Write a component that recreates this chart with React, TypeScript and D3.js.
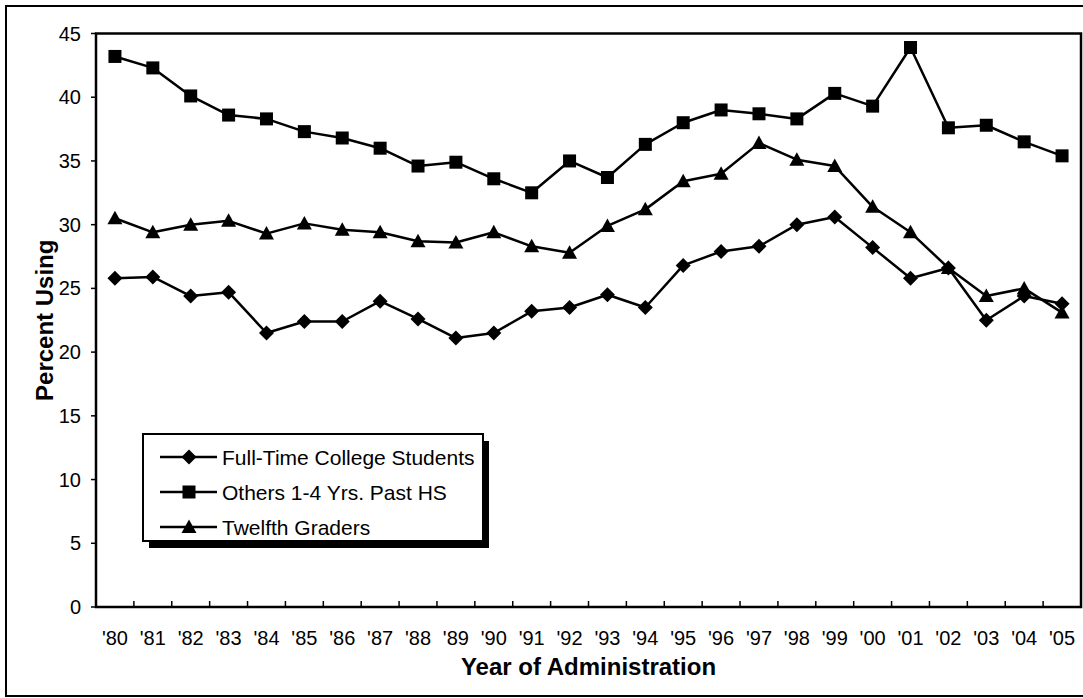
import React from 'react';
import * as d3 from 'd3';

const years = ["'80", "'81", "'82", "'83", "'84", "'85", "'86", "'87", "'88", "'89", "'90", "'91", "'92", "'93", "'94", "'95", "'96", "'97", "'98", "'99", "'00", "'01", "'02", "'03", "'04", "'05"];
const fullTime = [25.8, 25.9, 24.4, 24.7, 21.5, 22.4, 22.4, 24.0, 22.6, 21.1, 21.5, 23.2, 23.5, 24.5, 23.5, 26.8, 27.9, 28.3, 30.0, 30.6, 28.2, 25.8, 26.6, 22.5, 24.4, 23.8];
const others = [43.2, 42.3, 40.1, 38.6, 38.3, 37.3, 36.8, 36.0, 34.6, 34.9, 33.6, 32.5, 35.0, 33.7, 36.3, 38.0, 39.0, 38.7, 38.3, 40.3, 39.3, 43.9, 37.6, 37.8, 36.5, 35.4];
const twelfth = [30.5, 29.4, 30.0, 30.3, 29.3, 30.1, 29.6, 29.4, 28.7, 28.6, 29.4, 28.3, 27.8, 29.9, 31.2, 33.4, 34.0, 36.4, 35.1, 34.6, 31.4, 29.4, 26.6, 24.4, 25.0, 23.1];
const yTicks = [0, 5, 10, 15, 20, 25, 30, 35, 40, 45];
const seriesNames = ['Full-Time College Students', 'Others 1-4 Yrs. Past HS', 'Twelfth Graders'];

const FONT = "'Liberation Sans', Arial, sans-serif";

type Shape = 'diamond' | 'square' | 'triangle';

function Marker({ shape, x, y }: { shape: Shape; x: number; y: number }) {
  if (shape === 'square') {
    return <rect x={x - 6.5} y={y - 6.5} width={13} height={13} fill="#000" />;
  }
  if (shape === 'diamond') {
    return <path d={`M${x},${y - 7.5}L${x + 7.5},${y}L${x},${y + 7.5}L${x - 7.5},${y}Z`} fill="#000" />;
  }
  return <path d={`M${x},${y - 7.5}L${x + 7.5},${y + 6}L${x - 7.5},${y + 6}Z`} fill="#000" />;
}

export default function App() {
  const W = 1083;
  const H = 698;
  const plot = { left: 96, top: 33.5, right: 1081, bottom: 607 };
  const x = d3.scaleBand<string>().domain(years).range([plot.left, plot.right]).padding(0);
  const y = d3.scaleLinear().domain([0, 45]).range([plot.bottom, plot.top]);
  const cx = (i: number) => (x(years[i]) as number) + x.bandwidth() / 2;
  const line = d3.line<number>().x((_, i) => cx(i)).y((d) => y(d));

  const series: { name: string; values: number[]; shape: Shape }[] = [
    { name: seriesNames[0], values: fullTime, shape: 'diamond' },
    { name: seriesNames[1], values: others, shape: 'square' },
    { name: seriesNames[2], values: twelfth, shape: 'triangle' },
  ];

  const boundaries = years.slice(1).map((yr) => x(yr) as number);

  const legend = { x: 143, y: 434, w: 340, h: 107 };
  const legendRows = [457, 492, 527];

  return (
    <svg
      width={W}
      height={H}
      style={{ position: 'absolute', left: 0, top: 0, background: '#fff' }}
      fontFamily={FONT}
    >
      <rect x={0} y={0} width={W} height={H} fill="#fff" />
      {/* outer frame */}
      <rect x={6} y={6} width={1090} height={690} fill="none" stroke="#000" strokeWidth={2} />

      {/* plot box */}
      <rect
        x={plot.left}
        y={plot.top}
        width={plot.right - plot.left}
        height={plot.bottom - plot.top}
        fill="#fff"
        stroke="#000"
        strokeWidth={2.5}
      />

      {/* y ticks and labels */}
      {yTicks.map((t) => (
        <g key={t}>
          <line x1={plot.left - 5} x2={plot.left} y1={y(t)} y2={y(t)} stroke="#000" strokeWidth={1.5} />
          <text x={81} y={y(t)} dy="0.35em" textAnchor="end" fontSize={20} fill="#000">
            {t}
          </text>
        </g>
      ))}

      {/* x ticks (inside) */}
      {boundaries.map((bx, i) => (
        <line key={i} x1={bx} x2={bx} y1={plot.bottom} y2={plot.bottom - 6} stroke="#000" strokeWidth={1.5} />
      ))}
      {years.map((yr, i) => (
        <text key={yr} x={cx(i)} y={645} textAnchor="middle" fontSize={20} fill="#000">
          {yr}
        </text>
      ))}

      {/* axis titles */}
      <text x={588.5} y={675} textAnchor="middle" fontSize={24} fontWeight="bold" fill="#000">
        Year of Administration
      </text>
      <text
        transform={`translate(53,${(plot.top + plot.bottom) / 2}) rotate(-90)`}
        textAnchor="middle"
        fontSize={24}
        fontWeight="bold"
        fill="#000"
      >
        Percent Using
      </text>

      {/* series */}
      {series.map((s) => (
        <g key={s.name}>
          <path d={line(s.values) as string} fill="none" stroke="#000" strokeWidth={2.5} strokeLinejoin="round" />
          {s.values.map((v, i) => (
            <Marker key={i} shape={s.shape} x={cx(i)} y={y(v)} />
          ))}
        </g>
      ))}

      {/* legend */}
      <rect x={legend.x + 6} y={legend.y + 7} width={legend.w} height={legend.h} fill="#000" />
      <rect x={legend.x} y={legend.y} width={legend.w} height={legend.h} fill="#fff" stroke="#000" strokeWidth={2} />
      {series.map((s, i) => (
        <g key={s.name}>
          <line x1={160} x2={217} y1={legendRows[i]} y2={legendRows[i]} stroke="#000" strokeWidth={2.5} />
          <Marker shape={s.shape} x={189} y={legendRows[i]} />
          <text x={222} y={legendRows[i]} dy="0.36em" fontSize={21} fill="#000">
            {s.name}
          </text>
        </g>
      ))}
    </svg>
  );
}
